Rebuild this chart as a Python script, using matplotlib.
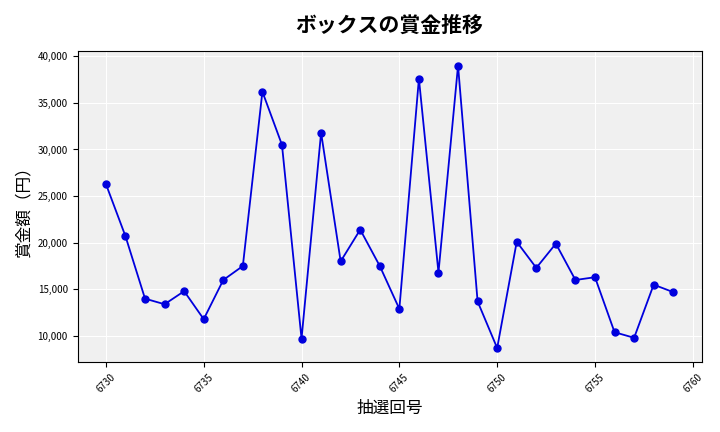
import matplotlib
matplotlib.use("Agg")
import matplotlib.pyplot as plt
from matplotlib.ticker import FuncFormatter

plt.rcParams["font.family"] = "Noto Sans CJK JP"

draws = list(range(6730, 6760))
prizes = [26300, 20700, 14000, 13400, 14800, 11800, 16000, 17500, 36200, 30500,
          9700, 31800, 18000, 21400, 17500, 12900, 37600, 16800, 39000, 13700,
          8700, 20100, 17300, 19900, 16000, 16300, 10400, 9800, 15500, 14700]

fig, ax = plt.subplots(figsize=(7.2, 4.32), dpi=100)
ax.set_facecolor("#f0f0f0")
ax.grid(True, color="white", linewidth=0.8)
ax.set_axisbelow(True)
ax.plot(draws, prizes, color="#0000dd", marker="o", markersize=5, linewidth=1.3)

ax.set_title("ボックスの賞金推移", fontsize=15, fontweight="bold", pad=14)
ax.set_xlabel("抽選回号", fontsize=12)
ax.set_ylabel("賞金額（円）", fontsize=12)
ax.set_xticks(range(6730, 6761, 5))
ax.tick_params(axis="x", labelrotation=45, labelsize=7)
ax.tick_params(axis="y", labelsize=7)
ax.yaxis.set_major_formatter(FuncFormatter(lambda v, p: f"{int(v):,}"))

fig.tight_layout()
fig.savefig("out.png")
